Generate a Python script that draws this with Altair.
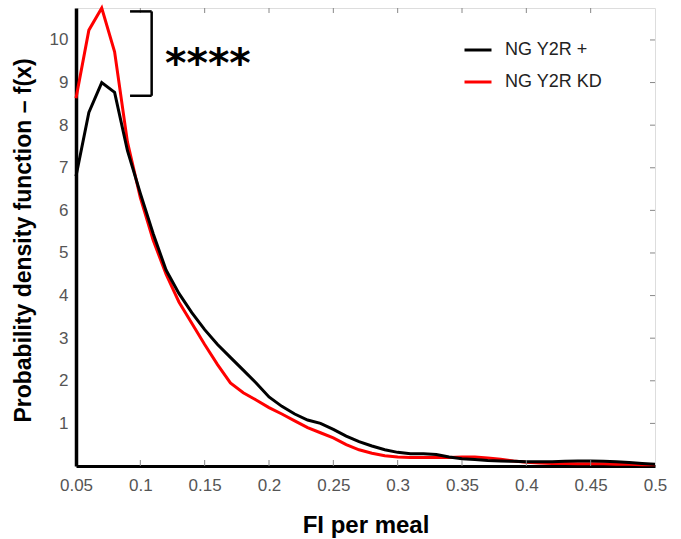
import altair as alt
import pandas as pd

# FI per meal bins (x) and the two density estimates
fi_per_meal = [round(0.05 + 0.01 * i, 2) for i in range(46)]
density_plus = [
    6.8, 8.3, 9.0, 8.77, 7.4, 6.4, 5.45, 4.6, 4.05, 3.6,
    3.2, 2.85, 2.55, 2.25, 1.95, 1.62, 1.4, 1.22, 1.08, 1.0,
    0.86, 0.7, 0.57, 0.47, 0.38, 0.32, 0.29, 0.29, 0.27, 0.21,
    0.17, 0.15, 0.13, 0.12, 0.11, 0.10, 0.10, 0.10, 0.11, 0.12,
    0.12, 0.11, 0.10, 0.08, 0.06, 0.04,
]
density_kd = [
    8.63, 10.23, 10.75, 9.72, 7.6, 6.3, 5.3, 4.5, 3.85, 3.35,
    2.85, 2.38, 1.95, 1.72, 1.55, 1.37, 1.22, 1.06, 0.9, 0.78,
    0.66, 0.5, 0.38, 0.3, 0.24, 0.21, 0.2, 0.2, 0.2, 0.2,
    0.21, 0.21, 0.19, 0.16, 0.12, 0.09, 0.07, 0.06, 0.06, 0.05,
    0.05, 0.05, 0.04, 0.04, 0.03, 0.03,
]
series_names = ["NG Y2R +", "NG Y2R KD"]
series_colors = ["#000000", "#ff0000"]

x_ticks = [0.05, 0.1, 0.15, 0.2, 0.25, 0.3, 0.35, 0.4, 0.45, 0.5]
y_ticks = [1, 2, 3, 4, 5, 6, 7, 8, 9, 10]

# significance bracket between the two peaks
bracket_x = [0.092, 0.1088]
bracket_y = [8.69, 10.67]
stars_label = "****"

W, H = 579, 458
LABEL_FONT = "Liberation Sans"

df = pd.DataFrame({
    "x": fi_per_meal * 2,
    "y": density_plus + density_kd,
    "series": [series_names[0]] * len(fi_per_meal) + [series_names[1]] * len(fi_per_meal),
})

x_scale = alt.Scale(domain=[0.05, 0.5], nice=False, zero=False)
y_scale = alt.Scale(domain=[0, 10.75], nice=False, zero=False)
color_scale = alt.Scale(domain=series_names, range=series_colors)

x_enc = alt.X(
    "x:Q", scale=x_scale,
    axis=alt.Axis(
        values=x_ticks, format=".2~f", title="FI per meal", labelFlush=False,
        domainColor="#000000", domainWidth=3, ticks=False, grid=False,
        labelFont=LABEL_FONT, labelFontSize=17, labelColor="#555555", labelPadding=11,
        titleFont=LABEL_FONT, titleFontSize=24, titleFontWeight="bold", titleColor="#000000",
        titleBaseline="alphabetic", titleY=66,
    ),
)
y_enc = alt.Y(
    "y:Q", scale=y_scale,
    axis=alt.Axis(
        values=y_ticks, title="Probability density function \u2013 f(x)", labelFlush=False,
        domainColor="#000000", domainWidth=3.5, ticks=False, grid=False,
        labelFont=LABEL_FONT, labelFontSize=17, labelColor="#555555", labelPadding=8,
        titleFont=LABEL_FONT, titleFontSize=23, titleFontWeight="bold", titleColor="#000000",
        titleBaseline="alphabetic", titleX=-46, titleY=H / 2 + 3,
    ),
)
color_enc = alt.Color(
    "series:N", scale=color_scale, sort=series_names,
    legend=alt.Legend(
        title=None, orient="none", legendX=387, legendY=27,
        symbolType="stroke", symbolSize=729, symbolStrokeWidth=3,
        labelFont=LABEL_FONT, labelFontSize=18, labelColor="#222222",
        labelOffset=12, rowPadding=8, padding=0,
    ),
)

base = alt.Chart(df)
red_line = base.transform_filter(alt.datum.series == series_names[1]).mark_line(
    strokeWidth=3
).encode(x=x_enc, y=y_enc, color=color_enc)
black_line = base.transform_filter(alt.datum.series == series_names[0]).mark_line(
    strokeWidth=3
).encode(x=x_enc, y=y_enc, color=color_enc)

# inward ticks on the frame
xt = pd.DataFrame({"x": x_ticks[1:-1]})
yt = pd.DataFrame({"y": y_ticks})
tick_color = "#888888"
top_ticks = alt.Chart(xt).mark_rule(color=tick_color, strokeWidth=1).encode(
    x=alt.X("x:Q", scale=x_scale), y=alt.value(0), y2=alt.value(5)
)
bottom_ticks = alt.Chart(xt).mark_rule(color=tick_color, strokeWidth=1).encode(
    x=alt.X("x:Q", scale=x_scale), y=alt.value(H - 6), y2=alt.value(H)
)
right_ticks = alt.Chart(yt).mark_rule(color=tick_color, strokeWidth=1).encode(
    y=alt.Y("y:Q", scale=y_scale), x=alt.value(W - 5), x2=alt.value(W)
)

# bracket: two horizontal arms plus the vertical spine
arms = pd.DataFrame({"x": [bracket_x[0]] * 2, "x2": [bracket_x[1]] * 2, "y": bracket_y})
spine = pd.DataFrame({"x": [bracket_x[1]], "y": [bracket_y[0]], "y2": [bracket_y[1]]})
bracket_arms = alt.Chart(arms).mark_rule(color="#000000", strokeWidth=2.5).encode(
    x=alt.X("x:Q", scale=x_scale), x2="x2:Q", y=alt.Y("y:Q", scale=y_scale)
)
bracket_spine = alt.Chart(spine).mark_rule(color="#000000", strokeWidth=2.5).encode(
    x=alt.X("x:Q", scale=x_scale), y=alt.Y("y:Q", scale=y_scale), y2="y2:Q"
)
stars = alt.Chart(pd.DataFrame({"x": [0.1525], "y": [9.12], "t": [stars_label]})).mark_text(
    font="DejaVu Sans", fontWeight="bold", fontSize=41, align="center",
    baseline="alphabetic", color="#000000"
).encode(x=alt.X("x:Q", scale=x_scale), y=alt.Y("y:Q", scale=y_scale), text="t:N")

chart = alt.layer(
    red_line, black_line, top_ticks, bottom_ticks, right_ticks,
    bracket_arms, bracket_spine, stars,
).properties(
    width=W, height=H,
    autosize=alt.AutoSizeParams(type="none"),
    padding={"left": 76, "top": 8, "right": 26, "bottom": 73},
).configure_view(
    stroke="#999999", strokeWidth=1
).configure(background="#ffffff")

chart.save("out.html", embed_options={"renderer": "svg", "actions": False})
